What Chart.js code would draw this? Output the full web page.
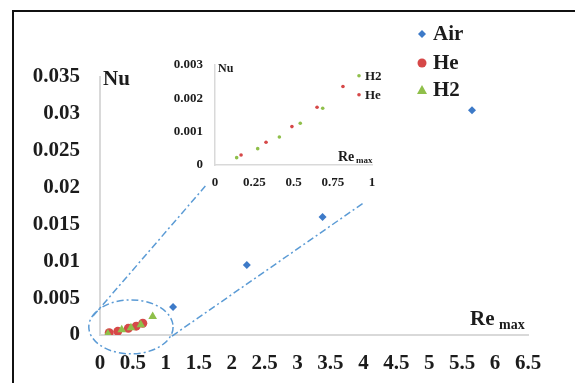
<!DOCTYPE html>
<html>
<head>
<meta charset="utf-8">
<script src="https://cdn.jsdelivr.net/npm/chart.js@4.4.0/dist/chart.umd.min.js"></script>
<style>
    html, body { margin: 0; padding: 0; background: #fff; overflow: hidden; }
    #wrap { position: relative; width: 575px; height: 383px; overflow: hidden; background: #fff; }
    #frame { position: absolute; left: 12px; top: 10px; width: 563px; height: 373px; border-left: 2px solid #111; border-top: 2px solid #111; box-sizing: border-box; }
    #main { position: absolute; left: 0; top: 0; }
    #inset { position: absolute; left: 160px; top: 45px; }
</style>
</head>
<body>
<div id="wrap">
    <div id="frame"></div>
    <canvas id="main" width="575" height="383"></canvas>
    <canvas id="inset" width="230" height="150"></canvas>
</div>
<script>
// Main chart data (Re max vs Nu)
const airX = [1.11, 2.23, 3.38, 5.65];
const airY = [0.0038, 0.0095, 0.016, 0.0305];
const heX = [0.14, 0.27, 0.43, 0.55, 0.65];
const heY = [0.0003, 0.0005, 0.0009, 0.0012, 0.0016];
const h2X = [0.12, 0.33, 0.47, 0.62, 0.8];
const h2Y = [0.00014, 0.0007, 0.001, 0.0014, 0.0025];

// Inset data (zoom on low Re)
const heInsetX = [0.166, 0.325, 0.49, 0.65, 0.815];
const heInsetY = [0.0003, 0.00068, 0.00115, 0.00173, 0.00235];
const h2InsetX = [0.138, 0.272, 0.41, 0.543, 0.686];
const h2InsetY = [0.00022, 0.00049, 0.00084, 0.00125, 0.0017];

// Tick labels
const mainXTicks = [0, 0.5, 1, 1.5, 2, 2.5, 3, 3.5, 4, 4.5, 5, 5.5, 6, 6.5];
const mainYTicks = [0, 0.005, 0.01, 0.015, 0.02, 0.025, 0.03, 0.035];
const insetXTicks = [0, 0.25, 0.5, 0.75, 1];
const insetYTicks = [0, 0.001, 0.002, 0.003];

const legendNames = ['Air', 'He', 'H2'];
const insetLegendNames = ['H2', 'He'];

const BLUE = '#3d7ac8';
const RED = '#d64848';
const GREEN = '#8fbf4a';
const LINE = '#5b9bd5';
const AXIS = '#d9d9d9';
const FONT = "'Liberation Serif', 'Times New Roman', serif";
const TEXT = '#1c1c1c';

function toPoints(xs, ys) {
    return xs.map((x, i) => ({ x: x, y: ys[i] }));
}

function drawMarker(ctx, style, x, y, r, color) {
    ctx.save();
    ctx.fillStyle = color;
    ctx.beginPath();
    if (style === 'rectRot') {
        ctx.moveTo(x, y - r); ctx.lineTo(x + r, y); ctx.lineTo(x, y + r); ctx.lineTo(x - r, y);
    } else if (style === 'triangle') {
        ctx.moveTo(x, y - r); ctx.lineTo(x + r, y + r * 0.8); ctx.lineTo(x - r, y + r * 0.8);
    } else {
        ctx.arc(x, y, r, 0, Math.PI * 2);
    }
    ctx.closePath();
    ctx.fill();
    ctx.restore();
}

// zoom ellipse + dash-dot connector lines, legend and axis titles
const mainDecor = {
    id: 'mainDecor',
    beforeDatasetsDraw(chart) {
        const { ctx, scales: { x, y } } = chart;
        const px = v => x.getPixelForValue(v);
        const py = v => y.getPixelForValue(v);
        ctx.save();
        ctx.strokeStyle = LINE;
        ctx.lineWidth = 1.5;
        ctx.setLineDash([7, 3, 2, 3]);
        // ellipse round the low-Re points
        const cx = px(0.47), cy = py(0.0011);
        const rx = px(0.47 + 0.64) - cx, ry = cy - py(0.0011 + 0.00366);
        ctx.beginPath();
        ctx.ellipse(cx, cy, rx, ry, 0, 0, Math.PI * 2);
        ctx.stroke();
        // connector lines towards the inset
        ctx.beginPath();
        ctx.moveTo(px(-0.106), py(0.00257));
        ctx.lineTo(px(1.6), py(0.0202));
        ctx.moveTo(px(1.094), py(-0.00014));
        ctx.lineTo(px(4.0), py(0.0179));
        ctx.stroke();
        ctx.restore();
    },
    afterDraw(chart) {
        const { ctx, chartArea } = chart;
        ctx.save();
        ctx.fillStyle = TEXT;
        ctx.textBaseline = 'alphabetic';
        ctx.font = 'bold 21px ' + FONT;
        ctx.fillText('Nu', chartArea.left + 3, chartArea.top + 8);
        ctx.fillText('Re', chartArea.right - 58, chartArea.bottom - 10);
        ctx.font = 'bold 14px ' + FONT;
        ctx.fillText('max', chartArea.right - 29, chartArea.bottom - 6);

        // legend
        const styles = ['rectRot', 'circle', 'triangle'];
        const colors = [BLUE, RED, GREEN];
        const radii = [4, 4.5, 5];
        const rows = [34, 63, 90];
        ctx.font = 'bold 21px ' + FONT;
        ctx.textBaseline = 'middle';
        legendNames.forEach((name, i) => {
            drawMarker(ctx, styles[i], 422, rows[i], radii[i], colors[i]);
            ctx.fillStyle = TEXT;
            ctx.fillText(name, 433, rows[i] + 1);
        });
        ctx.restore();
    }
};

const mainChart = new Chart(document.getElementById('main'), {
    type: 'scatter',
    data: {
        datasets: [
            { label: 'Air', data: toPoints(airX, airY), pointStyle: 'rectRot', pointRadius: 4,
              backgroundColor: BLUE, borderColor: BLUE, borderWidth: 0, order: 2 },
            { label: 'He', data: toPoints(heX, heY), pointStyle: 'circle', pointRadius: 4.5,
              backgroundColor: RED, borderColor: RED, borderWidth: 0, order: 1 },
            { label: 'H2', data: toPoints(h2X, h2Y), pointStyle: 'triangle', pointRadius: 5,
              backgroundColor: GREEN, borderColor: GREEN, borderWidth: 0, order: 0 }
        ]
    },
    options: {
        responsive: false,
        animation: false,
        layout: { padding: { left: 0, top: 77, right: 47, bottom: 0 } },
        plugins: { legend: { display: false }, tooltip: { enabled: false } },
        scales: {
            x: {
                type: 'linear', min: 0, max: 6.5,
                afterBuildTicks: s => { s.ticks = mainXTicks.map(v => ({ value: v })); },
                afterFit: s => { s.height = 48; },
                grid: { display: false, drawTicks: false },
                border: { display: true, color: AXIS, width: 2 },
                ticks: { padding: 16, color: TEXT, font: { family: FONT, size: 21, weight: 'bold' },
                         callback: v => String(v), autoSkip: false, maxRotation: 0 }
            },
            y: {
                type: 'linear', min: 0, max: 0.035,
                afterBuildTicks: s => { s.ticks = mainYTicks.map(v => ({ value: v })); },
                afterFit: s => { s.width = 100; },
                grid: { display: false, drawTicks: false },
                border: { display: true, color: AXIS, width: 2 },
                ticks: { padding: 20, color: TEXT, font: { family: FONT, size: 21, weight: 'bold' },
                         callback: v => String(v), autoSkip: false }
            }
        }
    },
    plugins: [mainDecor]
});

const insetDecor = {
    id: 'insetDecor',
    afterDraw(chart) {
        const { ctx, chartArea } = chart;
        ctx.save();
        ctx.fillStyle = TEXT;
        ctx.font = 'bold 12px ' + FONT;
        ctx.fillText('Nu', chartArea.left + 3, chartArea.top + 7);
        ctx.font = 'bold 14px ' + FONT;
        ctx.fillText('Re', chartArea.right - 34, chartArea.bottom - 4);
        ctx.font = 'bold 9px ' + FONT;
        ctx.fillText('max', chartArea.right - 16, chartArea.bottom - 2);

        const colors = [GREEN, RED];
        const rows = [chartArea.top + 11, chartArea.top + 30];
        ctx.font = 'bold 13px ' + FONT;
        ctx.textBaseline = 'middle';
        insetLegendNames.forEach((name, i) => {
            drawMarker(ctx, 'circle', chartArea.right - 13, rows[i], 1.8, colors[i]);
            ctx.fillStyle = TEXT;
            ctx.fillText(name, chartArea.right - 7, rows[i] + 1);
        });
        ctx.restore();
    }
};

const insetChart = new Chart(document.getElementById('inset'), {
    type: 'scatter',
    data: {
        datasets: [
            { label: 'H2', data: toPoints(h2InsetX, h2InsetY), pointRadius: 1.8,
              backgroundColor: GREEN, borderColor: GREEN, borderWidth: 0 },
            { label: 'He', data: toPoints(heInsetX, heInsetY), pointRadius: 1.8,
              backgroundColor: RED, borderColor: RED, borderWidth: 0 }
        ]
    },
    options: {
        responsive: false,
        animation: false,
        layout: { padding: { left: 0, top: 15, right: 18, bottom: 0 } },
        plugins: { legend: { display: false }, tooltip: { enabled: false } },
        scales: {
            x: {
                type: 'linear', min: 0, max: 1,
                afterBuildTicks: s => { s.ticks = insetXTicks.map(v => ({ value: v })); },
                afterFit: s => { s.height = 30; },
                grid: { display: false, drawTicks: false },
                border: { display: true, color: AXIS, width: 1.5 },
                ticks: { padding: 10, color: TEXT, font: { family: FONT, size: 13, weight: 'bold' },
                         callback: v => String(v), autoSkip: false, maxRotation: 0 }
            },
            y: {
                type: 'linear', min: 0, max: 0.003,
                afterBuildTicks: s => { s.ticks = insetYTicks.map(v => ({ value: v })); },
                afterFit: s => { s.width = 55; },
                grid: { display: false, drawTicks: false },
                border: { display: true, color: AXIS, width: 1.5 },
                ticks: { padding: 12, color: TEXT, font: { family: FONT, size: 13, weight: 'bold' },
                         callback: v => String(v), autoSkip: false }
            }
        }
    },
    plugins: [insetDecor]
});
</script>
</body>
</html>
